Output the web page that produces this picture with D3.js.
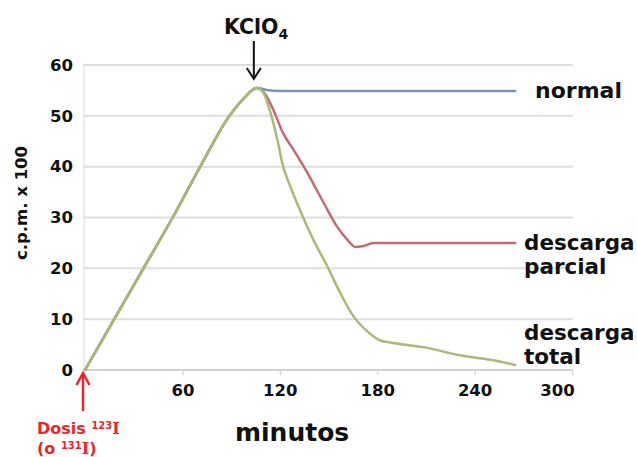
<!DOCTYPE html>
<html>
<head>
<meta charset="utf-8">
<script src="https://cdn.jsdelivr.net/npm/d3@7"></script>
<style>
  html, body { margin: 0; padding: 0; background: #fff; }
  svg { display: block; }
  text { font-family: "DejaVu Sans", Verdana, sans-serif; font-weight: bold; }
</style>
</head>
<body>
<svg id="chart" width="637" height="457"></svg>
<script>
// ---- data ----
const xTicks = [60, 120, 180, 240, 300];
const yTicks = [0, 10, 20, 30, 40, 50, 60];

const normalMin = [0, 18, 36, 54, 71, 89, 98, 106, 112, 120, 150, 200, 265];
const normalVal = [0, 10, 20, 30, 40, 50, 53.5, 55.5, 55.1, 54.9, 54.9, 54.9, 54.9];

const parcialMin = [0, 18, 36, 54, 71, 89, 98, 106, 110, 116, 122, 128.5, 137, 147, 155.5, 161.7, 166.6, 171.5, 177.6, 265];
const parcialVal = [0, 10, 20, 30, 40, 50, 53.5, 55.5, 54.7, 51.2, 46.6, 43.3, 38.8, 32.9, 28.1, 25.6, 24.2, 24.4, 25.0, 25.0];

const totalMin = [0, 18, 36, 54, 71, 89, 98, 106, 110, 114.3, 118.6, 121.7, 126.6, 132.8, 140.7, 149.4, 157.3, 165.3, 173.9, 181.9, 188, 198.5, 210, 229, 250, 265];
const totalVal = [0, 10, 20, 30, 40, 50, 53.5, 55.5, 54.5, 50.6, 45.2, 40.5, 36.0, 31.2, 25.6, 20.3, 15.1, 10.6, 7.6, 5.8, 5.4, 4.9, 4.4, 3.0, 2.0, 1.0];

const seriesNames = ["normal", "descarga parcial", "descarga total"];

// ---- layout ----
const svg = d3.select("#chart");
const x = d3.scaleLinear().domain([0, 300]).range([85, 572]);
const y = d3.scaleLinear().domain([0, 60]).range([370, 65]);

// gridlines
svg.append("g").selectAll("line").data(yTicks).join("line")
  .attr("x1", x(0) - 2).attr("x2", x(300) + 1)
  .attr("y1", d => y(d)).attr("y2", d => y(d))
  .attr("stroke", d => d === 0 ? "#d2d2d2" : "#dedede")
  .attr("stroke-width", 2);

// left border of plot
svg.append("line")
  .attr("x1", x(0) - 1).attr("x2", x(0) - 1)
  .attr("y1", y(60)).attr("y2", y(0))
  .attr("stroke", "#e6e6e6").attr("stroke-width", 1.5);

// x axis (ticks + labels)
const xAxis = d3.axisBottom(x).tickValues(xTicks).tickSize(5).tickPadding(9);
const gx = svg.append("g").attr("transform", `translate(0,${y(0)})`).call(xAxis);
gx.select(".domain").remove();
gx.selectAll(".tick line").attr("stroke", "#d6d6d6").attr("stroke-width", 1.5);
gx.selectAll(".tick text")
  .attr("fill", "#111").attr("font-size", 16.5)
  .style("font-family", '"DejaVu Sans", Verdana, sans-serif').style("font-weight", "bold")
  .attr("dx", d => d === 300 ? -15 : 0);

// y axis labels
const yAxis = d3.axisLeft(y).tickValues(yTicks).tickSize(0).tickPadding(12);
const gy = svg.append("g").attr("transform", `translate(${x(0)},0)`).call(yAxis);
gy.select(".domain").remove();
gy.selectAll(".tick text")
  .attr("fill", "#111").attr("font-size", 16.5)
  .style("font-family", '"DejaVu Sans", Verdana, sans-serif').style("font-weight", "bold");

// lines
const line = d3.line().x(d => x(d[0])).y(d => y(d[1])).curve(d3.curveMonotoneX);
const mk = (m, v) => m.map((t, i) => [t, v[i]]);
const series = [
  { name: seriesNames[0], pts: mk(normalMin, normalVal), color: "#7d93b6" },
  { name: seriesNames[1], pts: mk(parcialMin, parcialVal), color: "#c46a74" },
  { name: seriesNames[2], pts: mk(totalMin, totalVal), color: "#aab97a" }
];
svg.append("g").selectAll("path").data(series).join("path")
  .attr("d", d => line(d.pts))
  .attr("fill", "none")
  .attr("stroke", d => d.color)
  .attr("stroke-width", 2.5)
  .attr("stroke-linejoin", "round")
  .attr("stroke-linecap", "round");

// series labels
const lab = svg.append("g").attr("fill", "#111");
lab.append("text").attr("x", 535).attr("y", 98).attr("font-size", 22).text("normal");
lab.append("text").attr("x", 524).attr("y", 250).attr("font-size", 21.5).text("descarga");
lab.append("text").attr("x", 524).attr("y", 274).attr("font-size", 21.5).text("parcial");
lab.append("text").attr("x", 524).attr("y", 340).attr("font-size", 21.5).text("descarga");
lab.append("text").attr("x", 524).attr("y", 364).attr("font-size", 21.5).text("total");

// axis titles
svg.append("text").attr("x", 235).attr("y", 441).attr("font-size", 25).attr("fill", "#111").text("minutos");
svg.append("text")
  .attr("transform", "translate(27,203) rotate(-90)")
  .attr("text-anchor", "middle").attr("font-size", 16.5).attr("fill", "#111")
  .text("c.p.m. x 100");

// KClO4 annotation
const k = svg.append("text").attr("x", 224).attr("y", 34).attr("font-size", 20.5).attr("fill", "#111");
k.append("tspan").text("KClO");
k.append("tspan").attr("font-size", 14).attr("dy", 5).text("4");
const ax = x(104);
svg.append("line").attr("x1", ax).attr("x2", ax).attr("y1", 41).attr("y2", 78)
  .attr("stroke", "#111").attr("stroke-width", 2);
svg.append("path").attr("d", `M${ax - 7},${68} L${ax},${79} L${ax + 7},${68}`)
  .attr("fill", "none").attr("stroke", "#111").attr("stroke-width", 2);

// Dosis annotation (red)
const red = "#e8262a";
const rx = x(0) - 2;
svg.append("line").attr("x1", rx).attr("x2", rx).attr("y1", 374).attr("y2", 411)
  .attr("stroke", red).attr("stroke-width", 2.5);
svg.append("path").attr("d", `M${rx - 6.5},${385} L${rx},${373} L${rx + 6.5},${385}`)
  .attr("fill", "none").attr("stroke", red).attr("stroke-width", 2.5);
const d1 = svg.append("text").attr("x", 37).attr("y", 434).attr("font-size", 16).attr("fill", red);
d1.append("tspan").text("Dosis ");
d1.append("tspan").attr("font-size", 10).attr("dy", -5).text("123");
d1.append("tspan").attr("dy", 5).style("font-family", '"DejaVu Serif", serif').text("I");
const d2 = svg.append("text").attr("x", 37).attr("y", 454).attr("font-size", 16).attr("fill", red);
d2.append("tspan").text("(o ");
d2.append("tspan").attr("font-size", 10).attr("dy", -5).text("131");
d2.append("tspan").attr("dy", 5).style("font-family", '"DejaVu Serif", serif').text("I");
d2.append("tspan").text(")");
</script>
</body>
</html>
